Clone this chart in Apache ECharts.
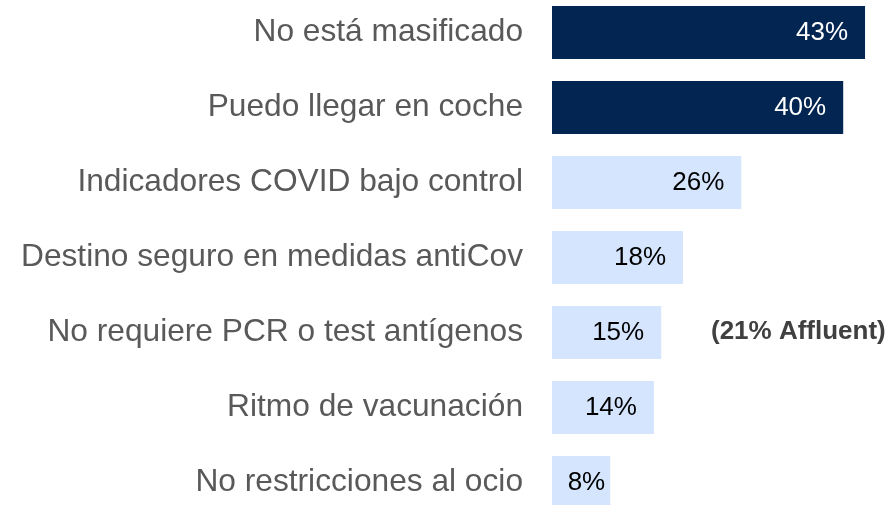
<!DOCTYPE html>
<html>
<head>
<meta charset="utf-8">
<script src="https://cdn.jsdelivr.net/npm/echarts@6/dist/echarts.min.js"></script>
<style>
  html, body { margin: 0; padding: 0; background: #fff; }
  #chart { width: 894px; height: 505px; }
</style>
</head>
<body>
<div id="chart"></div>
<script>
// motivos para elegir destino
const categories = [
  'No está masificado',
  'Puedo llegar en coche',
  'Indicadores COVID bajo control',
  'Destino seguro en medidas antiCov',
  'No requiere PCR o test antígenos',
  'Ritmo de vacunación',
  'No restricciones al ocio'
]
const values = [43, 40, 26, 18, 15, 14, 8]
const highlighted = [true, true, false, false, false, false, false]
const note = '(21% Affluent)'

const chart = echarts.init(document.getElementById('chart'))

const barData = values.map((v, i) => {
  const item = {
    value: v,
    itemStyle: { color: highlighted[i] ? '#022552' : '#d4e5fd' },
    label: { color: highlighted[i] ? '#ffffff' : '#000000' }
  }
  if (v < 10) item.label.distance = 5 // barra corta, etiqueta pegada
  return item
})

const option = {
  animation: false,
  grid: {
    left: 552,
    top: -5,
    width: 364,
    height: 525,
    containLabel: false,
    outerBoundsMode: 'none'
  },
  xAxis: {
    type: 'value',
    min: 0,
    max: 50,
    show: false
  },
  yAxis: {
    type: 'category',
    data: categories,
    inverse: true,
    axisLine: { show: false },
    axisTick: { show: false },
    splitLine: { show: false },
    axisLabel: {
      margin: 29,
      color: '#595959',
      fontFamily: 'Liberation Sans, Arial, sans-serif',
      fontSize: 31.7
    }
  },
  series: [
    {
      type: 'bar',
      data: barData,
      barWidth: 53,
      label: {
        show: true,
        position: 'insideRight',
        distance: 17,
        formatter: '{c}%',
        fontFamily: 'Liberation Sans, Arial, sans-serif',
        fontSize: 26
      }
    }
  ],
  graphic: [
    {
      type: 'text',
      left: 711,
      top: 319,
      style: {
        text: note,
        fill: '#404040',
        font: 'bold 26px "Liberation Sans", Arial, sans-serif'
      }
    }
  ]
}

chart.setOption(option)
</script>
</body>
</html>
